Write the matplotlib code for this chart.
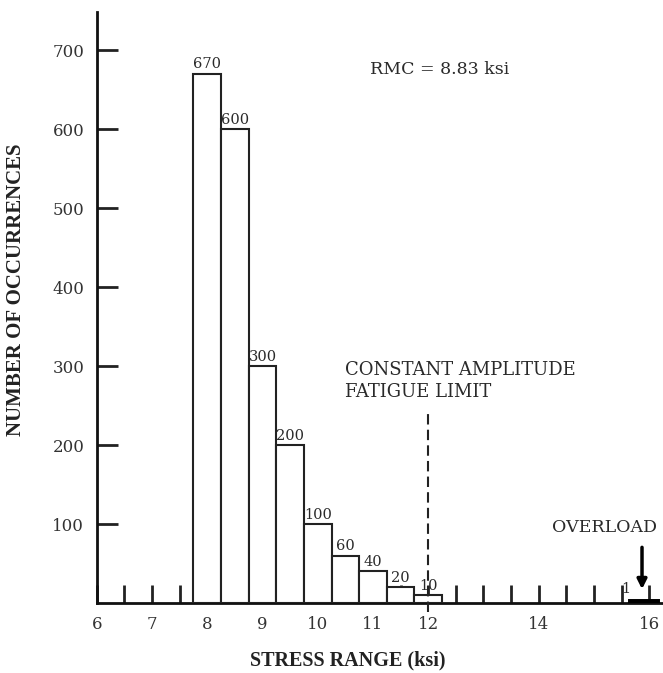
import numpy as np
import matplotlib
matplotlib.use('Agg')
import matplotlib.pyplot as plt

# stress range bins (ksi), bin width 0.5
stress = [8.0, 8.5, 9.0, 9.5, 10.0, 10.5, 11.0, 11.5, 12.0]
counts = [670, 600, 300, 200, 100, 60, 40, 20, 10]
overload_stress = 15.9
overload_count = 1
fatigue_limit = 12.0

xtick_pos = [6, 7, 8, 9, 10, 11, 12, 14, 16]
xtick_lab = ['6', '7', '8', '9', '10', '11', '12', '14', '16']
minor_pos = np.arange(6.5, 16.01, 0.5)
ytick_pos = [100, 200, 300, 400, 500, 600, 700]

plt.rcParams['font.family'] = ['DejaVu Serif']
bold_font = ['Liberation Serif', 'DejaVu Serif']
txt_col = '#2a2a2a'

fig = plt.figure(figsize=(6.63, 6.73), dpi=100)
ax = fig.add_axes([0.146, 0.104, 0.854, 0.878])

ax.bar(stress, counts, width=0.5, facecolor='white', edgecolor='#222', linewidth=1.5, zorder=3)
for s, c in zip(stress, counts):
    ax.text(s, c + 3, str(c), ha='center', va='bottom', fontsize=10.5, color=txt_col)

# overload bar
ax.bar(overload_stress, overload_count, width=0.45, facecolor='black', edgecolor='black',
       linewidth=5, zorder=3)
ax.text(overload_stress - 0.33, overload_count + 8, str(overload_count), ha='center',
        va='bottom', fontsize=10.5, color=txt_col)
ax.annotate('', xy=(overload_stress - 0.03, 14), xytext=(overload_stress - 0.03, 74),
            arrowprops=dict(arrowstyle='-|>', color='black', lw=2.5, mutation_scale=14))
ax.text(15.2, 95, 'OVERLOAD', ha='center', va='center', fontsize=12.5, color=txt_col)

# fatigue limit
ax.plot([fatigue_limit, fatigue_limit], [-12, 242], color='#222', lw=1.5,
        linestyle=(0, (5, 2.5)), clip_on=False, zorder=4)
ax.text(10.5, 295, 'CONSTANT AMPLITUDE', ha='left', va='center', fontsize=13, color=txt_col)
ax.text(10.5, 267, 'FATIGUE LIMIT', ha='left', va='center', fontsize=13, color=txt_col)

ax.text(10.94, 675, 'RMC = 8.83 ksi', ha='left', va='center', fontsize=12.5, color=txt_col)

ax.set_xlim(6, 16.25)
ax.set_ylim(0, 748)

ax.set_xticks(xtick_pos)
ax.set_xticklabels(xtick_lab)
ax.set_xticks(minor_pos, minor=True)
ax.set_yticks(ytick_pos)

ax.tick_params(axis='x', which='both', direction='in', length=13, width=2, color='#222',
               labelsize=12, pad=9, labelcolor='#333')
ax.tick_params(axis='y', direction='in', length=15, width=2, color='#222',
               labelsize=12, pad=9, labelcolor='#333')

for side in ['top', 'right']:
    ax.spines[side].set_visible(False)
for side in ['left', 'bottom']:
    ax.spines[side].set_linewidth(2)
    ax.spines[side].set_color('#111')

ax.set_xlabel('STRESS RANGE (ksi)', fontsize=14.5, fontweight='bold', family=bold_font, color='#222')
ax.xaxis.set_label_coords(0.443, -0.08)
ax.set_ylabel('NUMBER OF OCCURRENCES', fontsize=15, fontweight='bold', family=bold_font, color='#222')
ax.yaxis.set_label_coords(-0.125, 0.53)

fig.savefig('out.png', dpi=100)
